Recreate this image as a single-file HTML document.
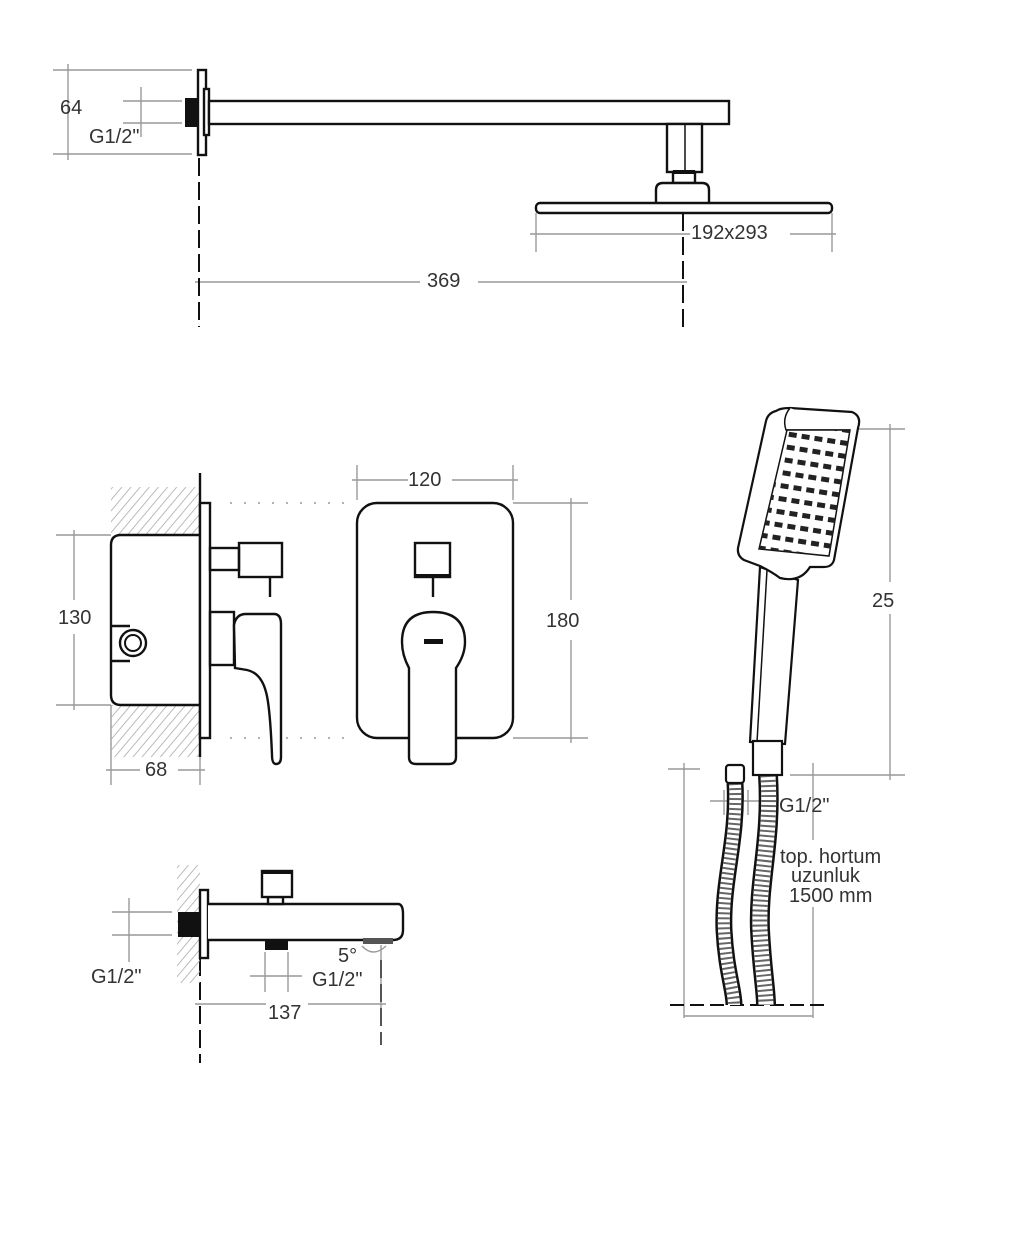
<!DOCTYPE html>
<html><head><style>
html,body{margin:0;padding:0;background:#fff;}
svg{display:block;}
text{font-family:"Liberation Sans",Arial,sans-serif;fill:#333;font-size:20px;}
</style></head><body>
<svg width="1024" height="1243" viewBox="0 0 1024 1243" xmlns="http://www.w3.org/2000/svg">
<defs>
<pattern id="hatch" width="7" height="7" patternUnits="userSpaceOnUse" patternTransform="rotate(40)">
<line x1="0" y1="0" x2="0" y2="7" stroke="#aaa" stroke-width="1.6"/>
</pattern>
<pattern id="noz" width="13" height="13" patternUnits="userSpaceOnUse" patternTransform="rotate(9)">
<rect x="2" y="4" width="8" height="5" fill="#222"/>
</pattern>
<clipPath id="face"><polygon points="787,430 850,430 829,556 759,549"/></clipPath>
</defs>

<g fill="none" stroke="#999" stroke-width="1.4">
<!-- top dims -->
<line x1="53" y1="70" x2="192" y2="70"/><line x1="53" y1="154" x2="192" y2="154"/>
<line x1="68" y1="64" x2="68" y2="160"/>
<line x1="123" y1="101" x2="182" y2="101"/><line x1="123" y1="123" x2="182" y2="123"/>
<line x1="141" y1="87" x2="141" y2="137"/>
<line x1="536" y1="213" x2="536" y2="252"/><line x1="832" y1="213" x2="832" y2="252"/>
<line x1="530" y1="234" x2="690" y2="234"/><line x1="790" y1="234" x2="836" y2="234"/>
<line x1="195" y1="282" x2="420" y2="282"/><line x1="478" y1="282" x2="687" y2="282"/>
<!-- middle dims -->
<line x1="357" y1="465" x2="357" y2="500"/><line x1="513" y1="465" x2="513" y2="500"/>
<line x1="352" y1="480" x2="408" y2="480"/><line x1="452" y1="480" x2="518" y2="480"/>
<line x1="513" y1="503" x2="588" y2="503"/><line x1="513" y1="738" x2="588" y2="738"/>
<line x1="571" y1="498" x2="571" y2="600"/><line x1="571" y1="640" x2="571" y2="743"/>
<line x1="56" y1="535" x2="111" y2="535"/><line x1="56" y1="705" x2="111" y2="705"/>
<line x1="74" y1="530" x2="74" y2="600"/><line x1="74" y1="634" x2="74" y2="710"/>
<line x1="111" y1="705" x2="111" y2="785"/><line x1="200" y1="757" x2="200" y2="785"/>
<line x1="106" y1="770" x2="140" y2="770"/><line x1="178" y1="770" x2="205" y2="770"/>
<line x1="230" y1="503" x2="350" y2="503" stroke-dasharray="2 12"/>
<line x1="230" y1="738" x2="350" y2="738" stroke-dasharray="2 12"/>
<!-- bottom dims -->
<line x1="112" y1="912" x2="172" y2="912"/><line x1="112" y1="935" x2="172" y2="935"/>
<line x1="129" y1="898" x2="129" y2="962"/>
<line x1="265" y1="952" x2="265" y2="992"/><line x1="288" y1="952" x2="288" y2="992"/>
<line x1="250" y1="976" x2="302" y2="976"/>
<line x1="195" y1="1004" x2="266" y2="1004"/><line x1="308" y1="1004" x2="386" y2="1004"/>
<line x1="381" y1="945" x2="381" y2="1010"/>
<path d="M362,946 Q373,958 386,946"/>
<!-- right dims -->
<line x1="790" y1="429" x2="905" y2="429"/><line x1="790" y1="775" x2="905" y2="775"/>
<line x1="890" y1="424" x2="890" y2="582"/><line x1="890" y1="614" x2="890" y2="780"/>
<line x1="710" y1="801" x2="770" y2="801"/>
<line x1="724" y1="790" x2="724" y2="815"/><line x1="748" y1="790" x2="748" y2="815"/>
<line x1="668" y1="769" x2="700" y2="769"/>
<line x1="684" y1="763" x2="684" y2="1018"/>
<line x1="813" y1="763" x2="813" y2="840"/><line x1="813" y1="907" x2="813" y2="1018"/>
<line x1="684" y1="1016" x2="813" y2="1016"/>
</g>

<!-- dashed center lines -->
<g stroke="#111" stroke-width="2" stroke-dasharray="18 6">
<line x1="199" y1="158" x2="199" y2="327"/><line x1="683" y1="165" x2="683" y2="327"/>
<line x1="200" y1="958" x2="200" y2="1063"/><line x1="381" y1="960" x2="381" y2="1045" stroke="#555"/>
<line x1="670" y1="1005" x2="825" y2="1005" stroke-dasharray="14 6"/>
</g>

<!-- TOP: shower arm -->
<g stroke="#111" stroke-width="2.4" fill="#fff">
<rect x="198" y="70" width="8" height="85"/>
<rect x="204" y="89" width="5" height="46"/>
<rect x="209" y="101" width="520" height="23"/>
<rect x="667" y="124" width="35" height="48"/>
<line x1="685" y1="124" x2="685" y2="172" stroke-width="1.5"/>
<rect x="673" y="172" width="22" height="11"/>
<path d="M656,203 V190 Q656,183 663,183 H702 Q709,183 709,190 V203"/>
<rect x="536" y="203" width="296" height="10" rx="4"/>
</g>
<rect x="185" y="98" width="13" height="29" fill="#111"/>
<rect x="673" y="170" width="22" height="4" fill="#111"/>

<!-- MIDDLE -->
<rect x="111" y="487" width="89" height="48" fill="url(#hatch)"/>
<rect x="111" y="705" width="89" height="52" fill="url(#hatch)"/>
<g stroke="#111" stroke-width="2.4" fill="none">
<line x1="200" y1="473" x2="200" y2="757"/>
<path d="M200,535 H121 Q111,535 111,545 V695 Q111,705 121,705 H200"/>
<circle cx="133" cy="643" r="13"/><circle cx="133" cy="643" r="8" stroke-width="2"/>
<line x1="111" y1="626" x2="130" y2="626"/><line x1="111" y1="661" x2="130" y2="661"/>
<rect x="200" y="503" width="10" height="235" fill="#fff"/>
<rect x="210" y="548" width="29" height="22"/>
<rect x="239" y="543" width="43" height="34"/>
<line x1="270" y1="577" x2="270" y2="597"/>
<rect x="210" y="612" width="24" height="53"/>
<path d="M234,625 Q236,614 246,614 H274 Q281,614 281,624 V757 Q281,764 276,764 Q272,764 272,755 Q270,706 266,692 Q261,673 247,670 L235,668 Z" fill="#fff"/>
<rect x="357" y="503" width="156" height="235" rx="20"/>
<rect x="415" y="543" width="35" height="34"/>
<line x1="433" y1="577" x2="433" y2="597"/>
<path d="M409,668 Q402,655 402,642 Q402,612 433,612 Q465,612 465,642 Q465,655 456,668 V757 Q456,764 449,764 H416 Q409,764 409,757 Z" fill="#fff"/>
</g>
<rect x="415" y="574" width="35" height="4" fill="#111"/>
<rect x="424" y="639" width="19" height="5" fill="#111"/>

<!-- BOTTOM: spout -->
<rect x="177" y="865" width="23" height="118" fill="url(#hatch)"/>
<rect x="178" y="912" width="22" height="25" fill="#111"/>
<g stroke="#111" stroke-width="2.4" fill="#fff">
<rect x="200" y="890" width="8" height="68"/>
<path d="M208,904 H398 Q403,904 403,914 V930 Q403,940 393,940 H208"/>
<rect x="268" y="897" width="15" height="7"/>
<rect x="262" y="871" width="30" height="26"/>
</g>
<rect x="262" y="870" width="30" height="4" fill="#111"/>
<rect x="265" y="940" width="23" height="10" fill="#111"/>
<rect x="363" y="938" width="30" height="6" fill="#555"/>

<!-- RIGHT: hand shower -->
<g fill="none" stroke-linecap="butt">
<path d="M735,783 C738,840 722,880 724,930 C726,970 734,990 734,1005" stroke="#111" stroke-width="17"/>
<path d="M735,783 C738,840 722,880 724,930 C726,970 734,990 734,1005" stroke="#fff" stroke-width="12"/>
<path d="M735,783 C738,840 722,880 724,930 C726,970 734,990 734,1005" stroke="#666" stroke-width="12" stroke-dasharray="2 3"/>
<path d="M768,775 C772,840 758,880 760,930 C762,970 766,990 766,1005" stroke="#111" stroke-width="20"/>
<path d="M768,775 C772,840 758,880 760,930 C762,970 766,990 766,1005" stroke="#fff" stroke-width="15"/>
<path d="M768,775 C772,840 758,880 760,930 C762,970 766,990 766,1005" stroke="#666" stroke-width="15" stroke-dasharray="2 3"/>
</g>
<g stroke="#111" stroke-width="2.2" fill="#fff">
<path d="M760,567 L750,742 L785,744 L798,580 Z"/>
<line x1="767" y1="570" x2="757" y2="742" stroke-width="1.5"/>
<rect x="753" y="741" width="29" height="34"/>
<rect x="726" y="765" width="18" height="18" rx="3"/>
<path d="M776,411 Q780,408 790,408 L852,412 Q862,416 858,428 L834,560 Q832,567 824,567 L810,567 Q800,583 780,578 Q772,572 760,566 L744,560 Q737,556 738,548 L766,421 Q768,413 776,411 Z"/>
<path d="M790,408 Q782,418 786,430 L850,430" stroke-width="1.5"/>
<polygon points="787,430 850,430 829,556 759,549" stroke-width="1.5"/>
</g>
<rect x="740" y="420" width="130" height="150" fill="url(#noz)" clip-path="url(#face)"/>

<!-- texts -->
<text x="60" y="114">64</text>
<text x="89" y="143">G1/2"</text>
<text x="691" y="239">192x293</text>
<text x="427" y="287">369</text>
<text x="408" y="486">120</text>
<text x="546" y="627">180</text>
<text x="58" y="624">130</text>
<text x="145" y="776">68</text>
<text x="91" y="983">G1/2"</text>
<text x="338" y="962">5°</text>
<text x="312" y="986">G1/2"</text>
<text x="268" y="1019">137</text>
<text x="872" y="607">25</text>
<text x="779" y="812">G1/2"</text>
<text x="780" y="863">top. hortum</text>
<text x="791" y="882">uzunluk</text>
<text x="789" y="902">1500 mm</text>
</svg>
</body></html>
